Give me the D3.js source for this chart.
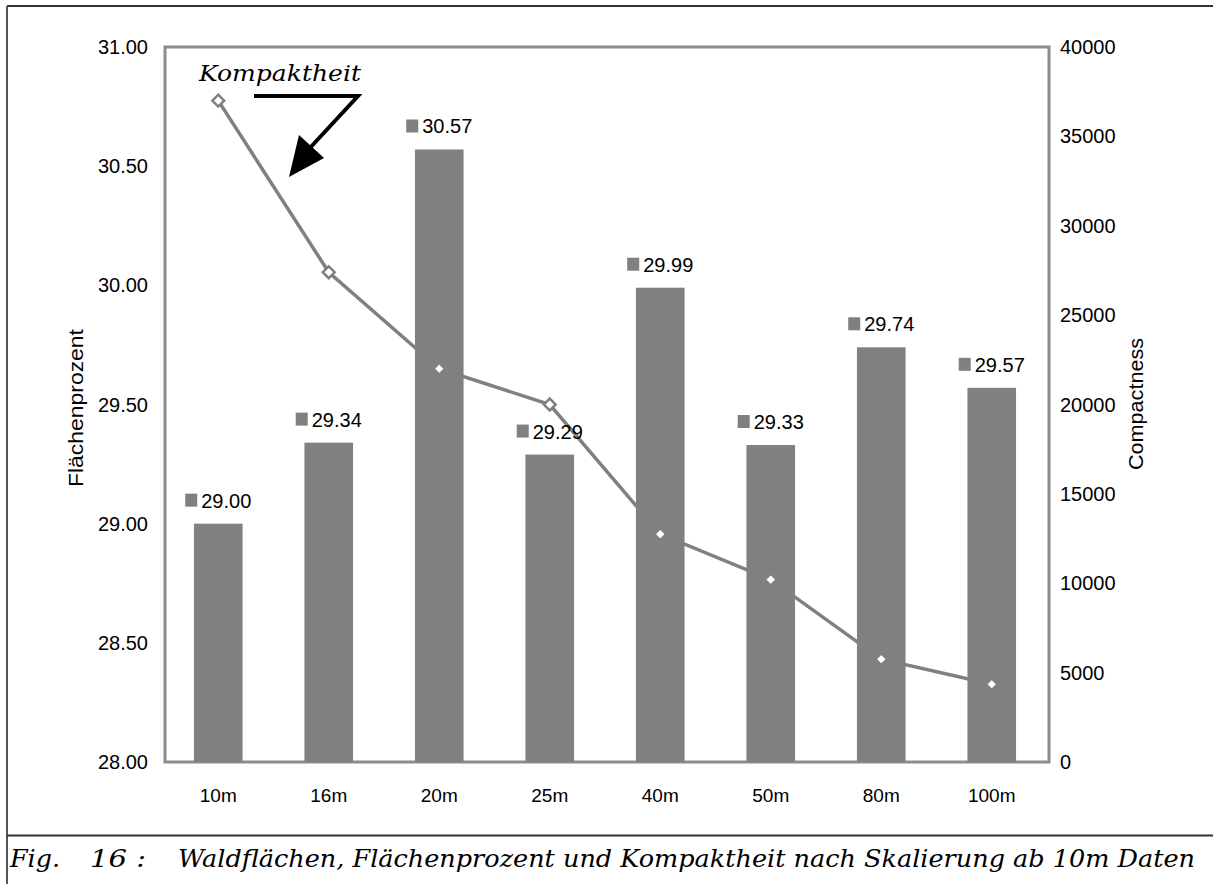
<!DOCTYPE html>
<html>
<head>
<meta charset="utf-8">
<script src="https://cdn.jsdelivr.net/npm/d3@7/dist/d3.min.js"></script>
<style>
  html, body { margin: 0; padding: 0; background: #fff; }
  svg { display: block; }
</style>
</head>
<body>
<svg id="chart" width="1213" height="884"></svg>
<script>
// ---- data ----
const categories = ["10m", "16m", "20m", "25m", "40m", "50m", "80m", "100m"];
const flaechenprozent = [29.00, 29.34, 30.57, 29.29, 29.99, 29.33, 29.74, 29.57];
const compactness = [37000, 27400, 22000, 20000, 12750, 10200, 5750, 4350];
const leftTicks = [28.0, 28.5, 29.0, 29.5, 30.0, 30.5, 31.0];
const rightTicks = [0, 5000, 10000, 15000, 20000, 25000, 30000, 35000, 40000];
const leftTitle = "Flächenprozent";
const rightTitle = "Compactness";
const annotation = "Kompaktheit";
const captionParts = ["Fig.", "16 :", "Waldflächen, Flächenprozent und Kompaktheit nach Skalierung ab 10m Daten"];

// ---- layout ----
const svg = d3.select("#chart");
const plot = { left: 165, right: 1049, top: 47, bottom: 762 };
const grey = "#808080";
const sans = "'Liberation Sans', Arial, sans-serif";
const serif = "'DejaVu Serif', 'Liberation Serif', serif";

const x = d3.scaleBand().domain(categories).range([plot.left - 2, plot.right - 2])
  .paddingInner(0.56).paddingOuter(0.28);
const yL = d3.scaleLinear().domain([28, 31]).range([plot.bottom, plot.top]);
const yR = d3.scaleLinear().domain([0, 40000]).range([plot.bottom, plot.top]);

// outer frame
svg.append("line").attr("x1", 7).attr("x2", 1213).attr("y1", 6).attr("y2", 6)
  .attr("stroke", "#333").attr("stroke-width", 2);
svg.append("line").attr("x1", 7).attr("x2", 7).attr("y1", 6).attr("y2", 884)
  .attr("stroke", "#555").attr("stroke-width", 2);
svg.append("line").attr("x1", 7).attr("x2", 1213).attr("y1", 835.5).attr("y2", 835.5)
  .attr("stroke", "#333").attr("stroke-width", 2);

// plot box
svg.append("rect").attr("x", plot.left).attr("y", plot.top)
  .attr("width", plot.right - plot.left).attr("height", plot.bottom - plot.top)
  .attr("fill", "none").attr("stroke", "#8c8c8c").attr("stroke-width", 3);

// line (behind bars)
const line = d3.line().x((d, i) => x(categories[i]) + x.bandwidth() / 2).y(d => yR(d));
svg.append("path").datum(compactness).attr("d", line)
  .attr("fill", "none").attr("stroke", grey).attr("stroke-width", 3.5);

// bars
svg.append("g").selectAll("rect").data(flaechenprozent).join("rect")
  .attr("x", (d, i) => x(categories[i]))
  .attr("y", d => yL(d))
  .attr("width", x.bandwidth())
  .attr("height", d => plot.bottom - yL(d))
  .attr("fill", grey);

// markers
const diamond = d3.symbol().type(d3.symbolDiamond2).size(90);
svg.append("g").selectAll("path").data(compactness).join("path")
  .attr("transform", (d, i) => `translate(${x(categories[i]) + x.bandwidth() / 2},${yR(d)})`)
  .attr("d", diamond)
  .attr("fill", "#fff").attr("stroke", grey).attr("stroke-width", 2.5);

// data labels
const lbl = svg.append("g").selectAll("g").data(flaechenprozent).join("g")
  .attr("transform", (d, i) => `translate(${x(categories[i]) + x.bandwidth() / 2},${yL(d) - 16})`);
lbl.each(function(d) {
  const g = d3.select(this);
  const t = g.append("text").text(d3.format(".2f")(d))
    .attr("font-family", sans).attr("font-size", 20).attr("fill", "#000");
  const w = t.node().getComputedTextLength();
  const total = 12 + 4 + w;
  g.append("rect").attr("x", -total / 2).attr("y", -14).attr("width", 12).attr("height", 13).attr("fill", grey);
  t.attr("x", -total / 2 + 16).attr("y", 0);
});

// left ticks
svg.append("g").selectAll("text").data(leftTicks).join("text")
  .attr("x", 148).attr("y", d => yL(d)).attr("dy", "0.35em")
  .attr("text-anchor", "end").attr("font-family", sans).attr("font-size", 20)
  .text(d => d3.format(".2f")(d));
// right ticks
svg.append("g").selectAll("text").data(rightTicks).join("text")
  .attr("x", 1060).attr("y", d => yR(d)).attr("dy", "0.35em")
  .attr("text-anchor", "start").attr("font-family", sans).attr("font-size", 20)
  .text(d => d);
// x labels
svg.append("g").selectAll("text").data(categories).join("text")
  .attr("x", d => x(d) + x.bandwidth() / 2).attr("y", 802)
  .attr("text-anchor", "middle").attr("font-family", sans).attr("font-size", 19)
  .text(d => d);

// axis titles
svg.append("text").attr("transform", "translate(83,408) rotate(-90)")
  .attr("text-anchor", "middle").attr("font-family", sans).attr("font-size", 20)
  .attr("textLength", 158).attr("lengthAdjust", "spacingAndGlyphs")
  .text(leftTitle);
svg.append("text").attr("transform", "translate(1143,404) rotate(-90)")
  .attr("text-anchor", "middle").attr("font-family", sans).attr("font-size", 20)
  .attr("textLength", 132).attr("lengthAdjust", "spacingAndGlyphs")
  .text(rightTitle);

// annotation
svg.append("text").attr("x", 199).attr("y", 81)
  .attr("font-family", serif).attr("font-style", "italic").attr("font-size", 23)
  .attr("textLength", 162).attr("lengthAdjust", "spacingAndGlyphs")
  .text(annotation);
svg.append("path").attr("d", "M254,96 L358,96 L308,150")
  .attr("fill", "none").attr("stroke", "#000").attr("stroke-width", 4).attr("stroke-linejoin", "miter");
svg.append("path").attr("d", "M289,177 L299,135 L324,158 Z").attr("fill", "#000");

// caption
const cap = svg.append("g").attr("font-family", serif).attr("font-style", "italic").attr("font-size", 25);
cap.append("text").attr("x", 10).attr("y", 867).attr("textLength", 50).attr("lengthAdjust", "spacingAndGlyphs").text(captionParts[0]);
cap.append("text").attr("x", 90).attr("y", 867).attr("textLength", 56).attr("lengthAdjust", "spacingAndGlyphs").text(captionParts[1]);
cap.append("text").attr("x", 178).attr("y", 867).attr("textLength", 1017).attr("lengthAdjust", "spacingAndGlyphs").text(captionParts[2]);
</script>
</body>
</html>
